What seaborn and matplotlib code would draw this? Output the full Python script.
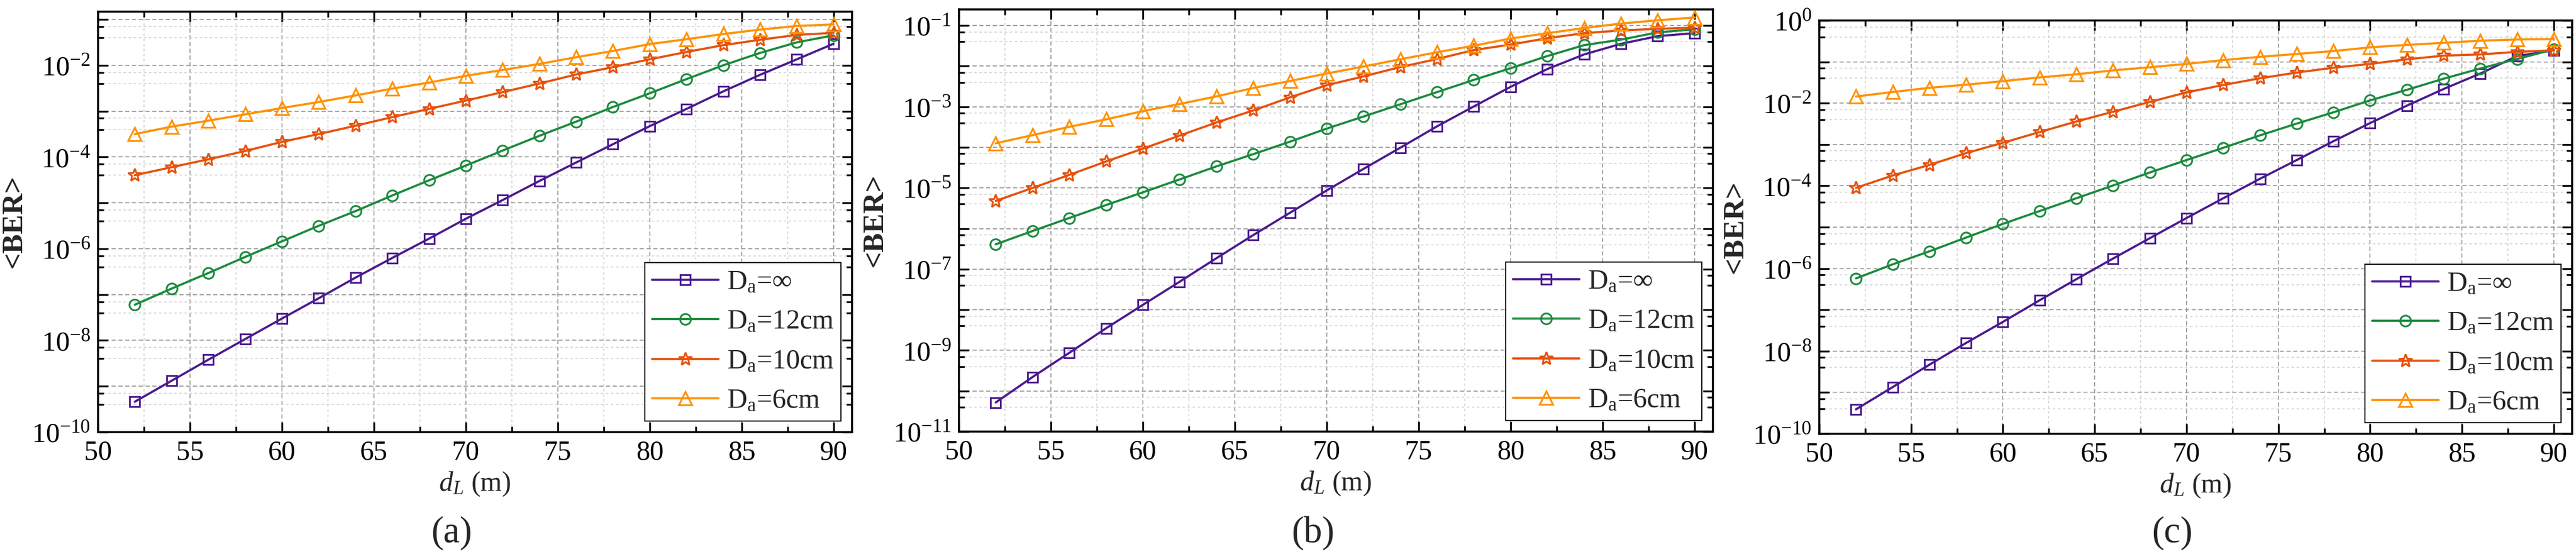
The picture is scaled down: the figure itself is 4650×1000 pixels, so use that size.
"""Average BER versus link distance for three turbulence cases, panels (a)-(c)."""

import matplotlib.pyplot as plt
import matplotlib.ticker as mticker
import numpy as np
import pandas as pd
import seaborn as sns

# ---- data ------------------------------------------------------------------
d_L = [52, 54, 56, 58, 60, 62, 64, 66, 68, 70,
       72, 74, 76, 78, 80, 82, 84, 86, 88, 90]

labels = [r"D$_\mathrm{a}$=∞", r"D$_\mathrm{a}$=12cm",
          r"D$_\mathrm{a}$=10cm", r"D$_\mathrm{a}$=6cm"]

# panel (a)
ber_a_inf = [4.6e-10, 1.32e-9, 3.8e-9, 1.07e-8, 3.0e-8, 8.3e-8, 2.34e-7, 6.3e-7, 1.66e-6, 4.5e-6,
             1.15e-5, 3.0e-5, 7.6e-5, 1.9e-4, 4.7e-4, 1.12e-3, 2.7e-3, 6.2e-3, 1.35e-2, 2.95e-2]
ber_a_12 = [6.0e-8, 1.35e-7, 2.95e-7, 6.6e-7, 1.45e-6, 3.16e-6, 6.6e-6, 1.45e-5, 3.1e-5, 6.5e-5,
            1.38e-4, 2.9e-4, 5.9e-4, 1.23e-3, 2.45e-3, 5.0e-3, 1.0e-2, 1.86e-2, 3.16e-2, 4.5e-2]
ber_a_10 = [4.0e-5, 6.0e-5, 8.9e-5, 1.35e-4, 2.14e-4, 3.16e-4, 4.8e-4, 7.4e-4, 1.12e-3, 1.7e-3,
            2.6e-3, 4.0e-3, 6.3e-3, 9.1e-3, 1.35e-2, 1.95e-2, 2.75e-2, 3.6e-2, 4.6e-2, 5.1e-2]
ber_a_6 = [3.16e-4, 4.6e-4, 6.2e-4, 8.5e-4, 1.17e-3, 1.58e-3, 2.2e-3, 3.1e-3, 4.2e-3, 5.9e-3,
           7.9e-3, 1.07e-2, 1.5e-2, 2.05e-2, 2.9e-2, 3.7e-2, 4.8e-2, 6.0e-2, 7.2e-2, 7.8e-2]

# panel (b)
ber_b_inf = [5.2e-11, 2.2e-10, 8.7e-10, 3.5e-9, 1.32e-8, 4.9e-8, 1.86e-7, 6.9e-7, 2.45e-6, 8.7e-6,
             2.95e-5, 9.8e-5, 3.3e-4, 1.02e-3, 3.1e-3, 8.5e-3, 1.95e-2, 3.55e-2, 5.5e-2, 6.5e-2]
ber_b_12 = [4.1e-7, 8.7e-7, 1.82e-6, 3.8e-6, 7.8e-6, 1.62e-5, 3.4e-5, 6.8e-5, 1.38e-4, 2.9e-4,
            5.75e-4, 1.15e-3, 2.3e-3, 4.6e-3, 8.9e-3, 1.78e-2, 3.3e-2, 4.5e-2, 6.8e-2, 8.1e-2]
ber_b_10 = [4.8e-6, 1.0e-5, 2.1e-5, 4.5e-5, 9.3e-5, 1.95e-4, 4.1e-4, 8.1e-4, 1.7e-3, 3.4e-3,
            5.6e-3, 9.5e-3, 1.5e-2, 2.5e-2, 3.4e-2, 4.9e-2, 6.5e-2, 7.6e-2, 8.3e-2, 8.9e-2]
ber_b_6 = [1.26e-4, 2.0e-4, 3.2e-4, 4.9e-4, 7.8e-4, 1.17e-3, 1.8e-3, 2.9e-3, 4.3e-3, 6.6e-3,
           9.8e-3, 1.48e-2, 2.2e-2, 3.2e-2, 4.8e-2, 6.5e-2, 8.7e-2, 0.112, 0.135, 0.158]

# panel (c)
ber_c_inf = [3.9e-10, 1.35e-9, 4.7e-9, 1.58e-8, 5.1e-8, 1.7e-7, 5.5e-7, 1.74e-6, 5.4e-6, 1.66e-5,
             5.0e-5, 1.48e-4, 4.2e-4, 1.2e-3, 3.3e-3, 8.7e-3, 2.2e-2, 5.2e-2, 0.138, 0.19]
ber_c_12 = [5.75e-7, 1.26e-6, 2.6e-6, 5.6e-6, 1.2e-5, 2.45e-5, 5.0e-5, 1.02e-4, 2.1e-4, 4.2e-4,
            8.3e-4, 1.66e-3, 3.2e-3, 6.0e-3, 1.17e-2, 2.1e-2, 3.9e-2, 6.9e-2, 0.117, 0.2]
ber_c_10 = [8.9e-5, 1.78e-4, 3.2e-4, 6.2e-4, 1.1e-3, 2.0e-3, 3.6e-3, 6.2e-3, 1.07e-2, 1.82e-2,
            2.75e-2, 4.0e-2, 5.5e-2, 7.2e-2, 8.9e-2, 0.115, 0.141, 0.151, 0.174, 0.19]
ber_c_6 = [1.45e-2, 1.86e-2, 2.35e-2, 2.8e-2, 3.4e-2, 4.2e-2, 5.0e-2, 6.2e-2, 7.4e-2, 8.9e-2,
           0.11, 0.132, 0.155, 0.182, 0.224, 0.257, 0.288, 0.324, 0.347, 0.355]

panel_data = [
    [ber_a_inf, ber_a_12, ber_a_10, ber_a_6],
    [ber_b_inf, ber_b_12, ber_b_10, ber_b_6],
    [ber_c_inf, ber_c_12, ber_c_10, ber_c_6],
]
panel_names = ["(a)", "(b)", "(c)"]
panel_ylims = [(1e-10, 0.15), (1e-11, 0.25), (1e-10, 1.0)]
label_parity = [0, 1, 0]   # which decades carry a tick label

# ---- styling ----------------------------------------------------------------
COLORS = ["#4a1a8f", "#1c8a3e", "#e6520c", "#ff9200"]
MARKERS = ["s", "o", "*", "^"]
MSIZES = [13, 14, 18, 17]

sns.set_style("ticks")
plt.rcParams["font.family"] = ["Liberation Serif", "DejaVu Serif"]
plt.rcParams["mathtext.fontset"] = "custom"
plt.rcParams["mathtext.rm"] = "Liberation Serif"
plt.rcParams["mathtext.it"] = "Liberation Serif:italic"
plt.rcParams["mathtext.bf"] = "Liberation Serif:bold"

FS = 36

axes_boxes = [
    [177 / 4650, 0.220, 1361 / 4650, 0.7595],
    [1731 / 4650, 0.221, 1361 / 4650, 0.762],
    [3284 / 4650, 0.217, 1359 / 4650, 0.746],
]


def decade_formatter(parity):
    def fmt(v, pos):
        e = int(round(np.log10(v)))
        if e % 2 == parity:
            return r"$\mathregular{10^{%d}}$" % e
        return ""
    return mticker.FuncFormatter(fmt)


fig = plt.figure(figsize=(46.5, 10), dpi=100)

for i, series in enumerate(panel_data):
    ax = fig.add_axes(axes_boxes[i])
    for vals, label, color, marker, ms in zip(series, labels, COLORS, MARKERS, MSIZES):
        df = pd.DataFrame({"d_L": d_L, "BER": vals})
        sns.lineplot(
            data=df, x="d_L", y="BER", ax=ax,
            color=color, linewidth=2.8, marker=marker, markersize=ms,
            markerfacecolor="none", markeredgecolor=color, markeredgewidth=2.3,
            label=label, zorder=3,
        )

    ax.set_yscale("log")
    ax.set_ylim(*panel_ylims[i])
    ax.set_xlim(50, 91)
    ax.xaxis.set_major_locator(mticker.MultipleLocator(5))
    ax.xaxis.set_minor_locator(mticker.MultipleLocator(2.5))
    ax.yaxis.set_major_locator(mticker.LogLocator(base=10, subs=(1.0,), numticks=30))
    ax.yaxis.set_minor_locator(mticker.LogLocator(base=10, subs=(4.0, 7.0), numticks=30))
    ax.yaxis.set_major_formatter(decade_formatter(label_parity[i]))
    ax.yaxis.set_minor_formatter(mticker.NullFormatter())

    ax.set_axisbelow(True)
    ax.grid(which="major", linestyle=(0, (5, 3)), color="#8a8a8a", linewidth=1.1)
    ax.grid(which="minor", linestyle=(0, (3, 3)), color="#d0d0d0", linewidth=1.1)

    for spine in ax.spines.values():
        spine.set_visible(True)
        spine.set_linewidth(2.6)
        spine.set_color("black")
    ax.tick_params(which="both", direction="in", top=True, right=True,
                   width=2.4, colors="black")
    ax.tick_params(which="major", length=13, labelsize=FS, pad=10)
    ax.tick_params(which="minor", length=7)

    ax.set_xlabel(r"$d_L$ (m)", fontsize=FS, labelpad=6)
    ax.set_ylabel("<BER>", fontsize=FS + 2, fontweight="bold", labelpad=6)

    leg = ax.legend(loc="lower right", fontsize=FS, frameon=True, fancybox=False,
                    borderpad=0.25, handlelength=2.4, handletextpad=0.3,
                    labelspacing=0.5, borderaxespad=0.4)
    leg.get_frame().set_edgecolor("black")
    leg.get_frame().set_linewidth(1.5)
    leg.get_frame().set_alpha(1.0)

    box = axes_boxes[i]
    cx = box[0] + box[2] / 2 - 42 / 4650
    fig.text(cx, 0.038, panel_names[i], fontsize=48, ha="center", va="center")

fig.savefig("out.png", dpi=100)
